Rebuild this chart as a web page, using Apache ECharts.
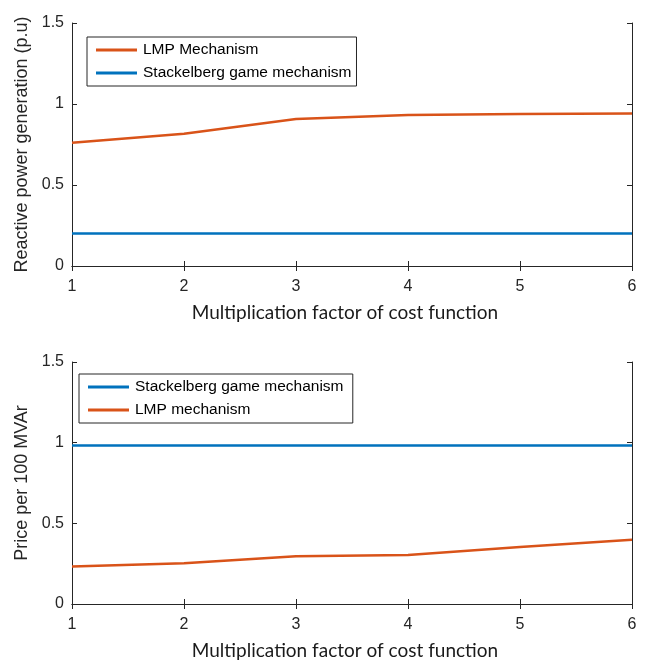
<!DOCTYPE html>
<html><head><meta charset="utf-8">
<script src="https://cdn.jsdelivr.net/npm/echarts@6/dist/echarts.min.js"></script>
<style>html,body{margin:0;padding:0;background:#fff}#c{width:649px;height:661px}</style>
</head><body><div id="c"></div>
<script>
const xValues = [1, 2, 3, 4, 5, 6];
const topLMP = [0.761, 0.816, 0.907, 0.932, 0.938, 0.942];
const topStackelberg = [0.2, 0.2, 0.2, 0.2, 0.2, 0.2];
const botStackelberg = [0.983, 0.983, 0.983, 0.983, 0.983, 0.983];
const botLMP = [0.233, 0.252, 0.296, 0.304, 0.354, 0.398];
const xTitle = 'Multiplication factor of cost function';
const topYTitle = 'Reactive power generation (p.u)';
const botYTitle = 'Price per 100 MVAr';

const ORANGE = '#D95319', BLUE = '#0072BD', AX = '#262626';
const pair = (xs, ys) => xs.map((x, i) => [x, ys[i]]);
const tickFont = {color: AX, fontFamily: 'Liberation Sans, Arial', fontSize: 16};
const xNameFont = {color: '#1a1a1a', fontFamily: 'Lato', fontSize: 19, padding: [0, 14, 0, 0]};
const yNameFont = {color: AX, fontFamily: 'Liberation Sans, Arial', fontSize: 18};

function xAx(gi, pos, labels) {
  return {type: 'value', gridIndex: gi, position: pos, min: 1, max: 6, interval: 1,
    axisLine: {show: true, lineStyle: {color: AX, width: 1}},
    axisTick: {show: true, inside: true, length: 5, lineStyle: {color: AX}},
    axisLabel: {show: labels, margin: 13, ...tickFont},
    splitLine: {show: false},
    name: labels ? xTitle : '', nameLocation: 'middle', nameGap: 37, nameTextStyle: xNameFont};
}
function yAx(gi, pos, labels, title) {
  return {type: 'value', gridIndex: gi, position: pos, min: 0, max: 1.5, interval: 0.5,
    axisLine: {show: true, lineStyle: {color: AX, width: 1}},
    axisTick: {show: true, inside: true, length: 5, lineStyle: {color: AX}},
    axisLabel: {show: labels, margin: 8, ...tickFont, formatter: v => String(v)},
    splitLine: {show: false},
    name: labels ? title : '', nameLocation: 'middle', nameGap: 37, nameTextStyle: yNameFont};
}
const lineS = (name, xi, yi, data, color) => ({
  name, type: 'line', xAxisIndex: xi, yAxisIndex: yi, data, symbol: 'none',
  lineStyle: {color, width: 2.5}, itemStyle: {color}, animation: false, z: 3});

const chart = echarts.init(document.getElementById('c'), null, {renderer: 'canvas'});
const legendBase = {orient: 'vertical', icon: 'rect', itemWidth: 41, itemHeight: 3, itemGap: 7,
  borderColor: AX, borderWidth: 1, backgroundColor: '#fff', padding: [5, 5, 5, 9],
  textStyle: {color: '#000', fontFamily: 'Liberation Sans, Arial', fontSize: 15.5, padding: [0, 0, 0, 1]}};
chart.setOption({
  animation: false,
  grid: [
    {left: 72, right: 17, top: 23, height: 243},
    {left: 72, right: 17, top: 362, height: 242}
  ],
  xAxis: [xAx(0, 'bottom', true), xAx(0, 'top', false), xAx(1, 'bottom', true), xAx(1, 'top', false)],
  yAxis: [yAx(0, 'left', true, topYTitle), yAx(0, 'right', false), yAx(1, 'left', true, botYTitle), yAx(1, 'right', false)],
  legend: [
    {...legendBase, left: 87, top: 37, data: ['LMP Mechanism', 'Stackelberg game mechanism']},
    {...legendBase, left: 79, top: 374, data: ['Stackelberg game mechanism ', 'LMP mechanism']}
  ],
  series: [
    lineS('LMP Mechanism', 0, 0, pair(xValues, topLMP), ORANGE),
    lineS('Stackelberg game mechanism', 0, 0, pair(xValues, topStackelberg), BLUE),
    lineS('Stackelberg game mechanism ', 2, 2, pair(xValues, botStackelberg), BLUE),
    lineS('LMP mechanism', 2, 2, pair(xValues, botLMP), ORANGE)
  ]
});
</script></body></html>
